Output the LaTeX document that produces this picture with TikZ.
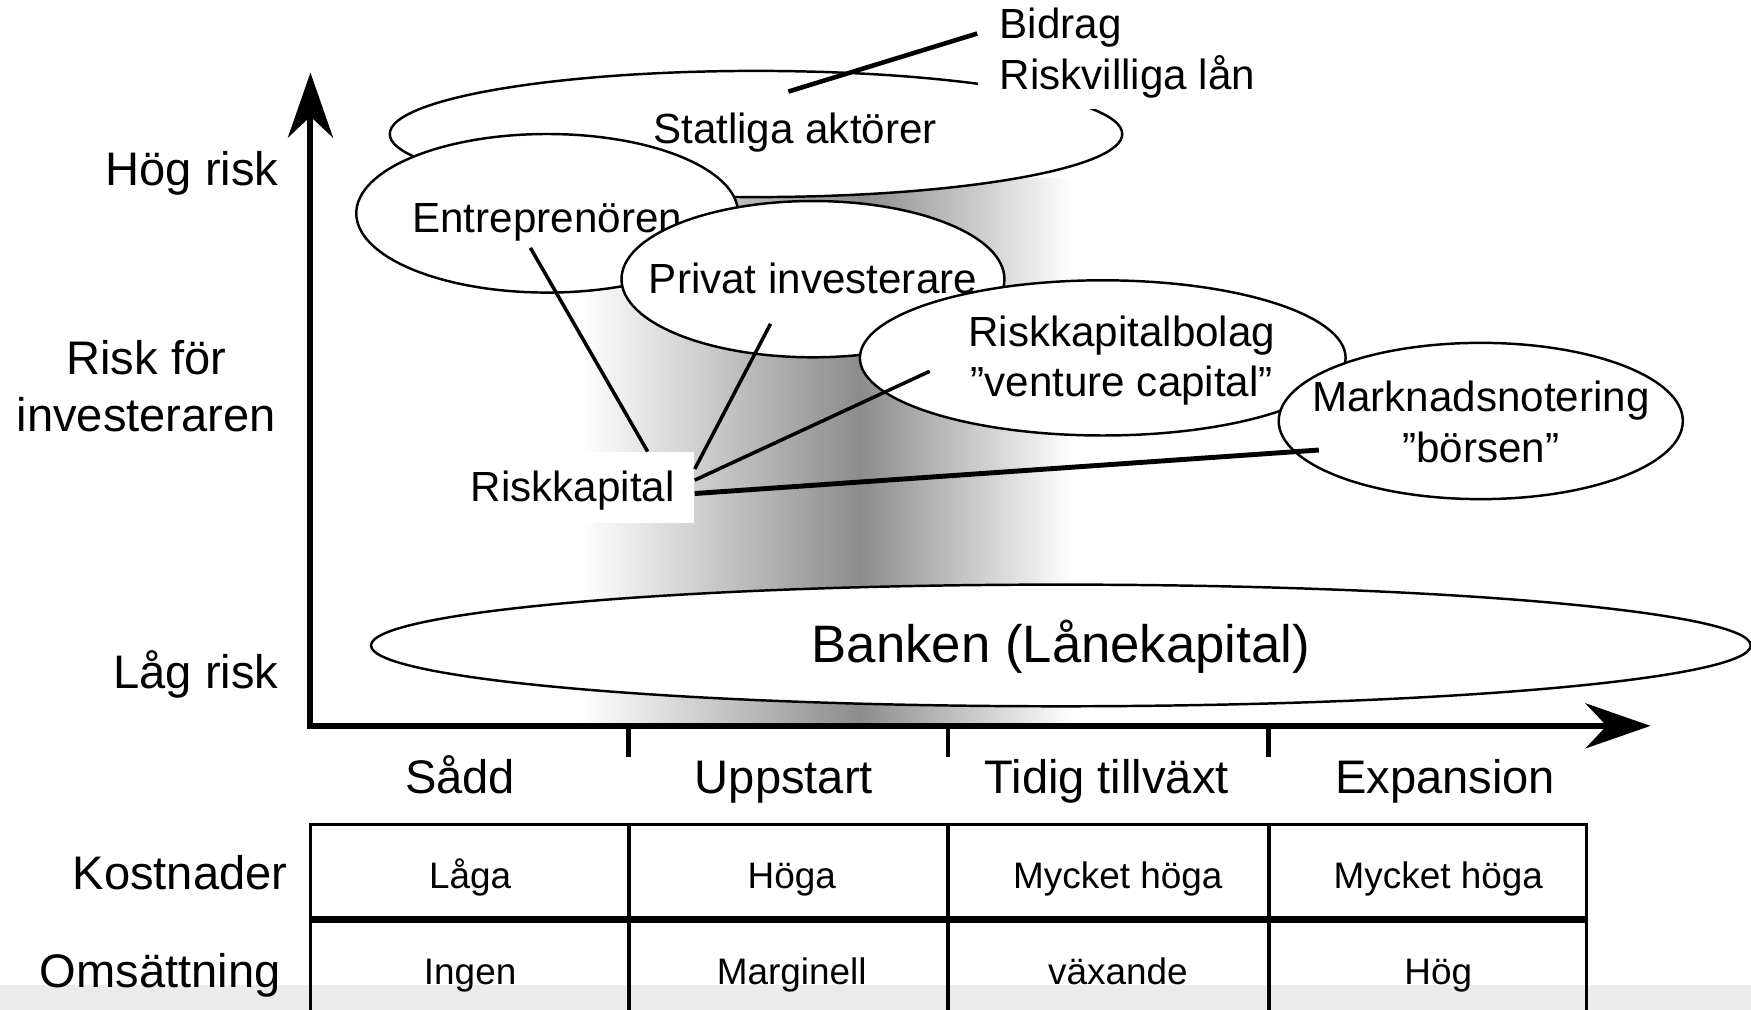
\documentclass[tikz,border=0pt]{standalone}
\usepackage{fontspec}
\setmainfont{Liberation Sans}
\usetikzlibrary{shapes.geometric,arrows.meta}
\begin{document}
\begin{tikzpicture}[x=0.011167cm,y=-0.011167cm,
  oval/.style={ellipse,draw,line width=0.7pt,fill=white,inner sep=0pt},
  tag/.style={font=\fontsize{12pt}{14.3pt}\selectfont,align=center,inner sep=0pt},
  tag1/.style={tag,text height=10.3pt,text depth=2.4pt},
  lab/.style={font=\fontsize{13.4pt}{16.2pt}\selectfont,align=center,inner sep=0pt},
  lab1/.style={lab,text height=11.5pt,text depth=2.7pt},
  cell/.style={font=\fontsize{10.5pt}{12pt}\selectfont,inner sep=0pt,text height=9pt,text depth=2.1pt},
  side/.style={tag1,anchor=west,inner xsep=0.22cm},
  conn/.style={line width=1pt},
  tip/.style={line width=1.7pt,{Stealth[length=0.65cm,width=0.45cm]}-{Stealth[length=0.65cm,width=0.45cm]}}]
  \useasboundingbox (0,0) rectangle (1568,904);
  \fill[black!8] (0,882) rectangle (1568,904);
  \shade[left color=white,right color=black!45] (520,160) rectangle (770,650);
  \shade[left color=black!45,right color=white] (770,160) rectangle (960,650);
  \coordinate (top) at (278,65);
  \coordinate (o) at (278,650);
  \coordinate (right) at (1478,650);
  \draw[tip] (top) -- (o) -- (right);
  \foreach \x in {563,849,1136} \draw[line width=1.3pt] (\x,650) -- (\x,678);
  \node[lab1,anchor=east] (hog) at (250,152) {Hög risk};
  \node[lab] (riskfor) at (131,346) {Risk för\\investeraren};
  \node[lab1,anchor=east] (lag) at (250,603) {Låg risk};
  \node[lab1] (sadd) at (412,697) {Sådd};
  \node[lab1] (uppstart) at (702,697) {Uppstart};
  \node[lab1] (tidig) at (991,697) {Tidig tillväxt};
  \node[lab1] (expansion) at (1294,697) {Expansion};
  \draw[line width=0.9pt] (278,950) -- (278,738) -- (1421,738) -- (1421,950);
  \foreach \x in {563,849,1136} \draw[line width=1.1pt] (\x,738) -- (\x,950);
  \draw[line width=2pt] (278,823) -- (1421,823);
  \node[lab1,anchor=east] (kost) at (258,783) {Kostnader};
  \node[lab1,anchor=east] (oms) at (252,870) {Omsättning};
  \foreach \x/\a/\b in {421/Låga/Ingen,709/Höga/Marginell,1001/Mycket höga/växande,1288/Mycket höga/Hög}{
    \node[cell] (k\x) at (\x,785) {\a};
    \node[cell] (m\x) at (\x,871) {\b};
  }
  \node[oval,minimum width=7.326cm,minimum height=1.262cm,
    label={[tag1,xshift=0.39cm,yshift=0.045cm]center:Statliga aktörer}] (stat) at (677,120) {};
  \node[side,fill=white,minimum height=0.67cm] (riskv) at (875,68) {Riskvilliga lån};
  \node[side] (bidrag) at (875,22) {Bidrag};
  \draw[line width=1.3pt] ([shift={(29,-38)}]stat.center) -- ([yshift=-0.09cm]bidrag.west);
  \node[oval,minimum width=3.819cm,minimum height=1.586cm,
    label={[tag1,yshift=-0.05cm]center:Entreprenören}] (entre) at (490,191) {};
  \node[oval,minimum width=3.830cm,minimum height=1.563cm,
    label={[tag1]center:Privat investerare}] (priv) at (728,250) {};
  \node[oval,minimum width=4.858cm,minimum height=1.552cm,
    label={[tag,xshift=0.19cm,yshift=-0.03cm]center:{Riskkapitalbolag\\”venture capital”}}] (rkb) at (987.5,320.5) {};
  \node[oval,minimum width=4.042cm,minimum height=1.563cm,
    label={[tag,yshift=-0.01cm]center:{Marknadsnotering\\”börsen”}}] (mark) at (1326,377) {};
  \node[oval,minimum width=13.80cm,minimum height=1.217cm,
    label={[font=\fontsize{15pt}{18pt}\selectfont,inner sep=0pt,text height=12.9pt,text depth=3pt]center:Banken (Lånekapital)}] (bank) at (950,578) {};
  \node[tag1,fill=white,minimum width=2.423cm,minimum height=0.704cm] (rk) at (513,436.5) {Riskkapital};
  \draw[conn] ([xshift=0.748cm]rk.north) -- ([shift={(-15,31)}]entre.center);
  \draw[conn] ([yshift=0.184cm]rk.east) -- ([shift={(-38,40)}]priv.center);
  \draw[conn] ([yshift=0.073cm]rk.east) -- ([shift={(-155,12)}]rkb.center);
  \draw[conn,line width=1.4pt] ([yshift=-0.061cm]rk.east) -- ([shift={(-145,26)}]mark.center);
\end{tikzpicture}
\end{document}
